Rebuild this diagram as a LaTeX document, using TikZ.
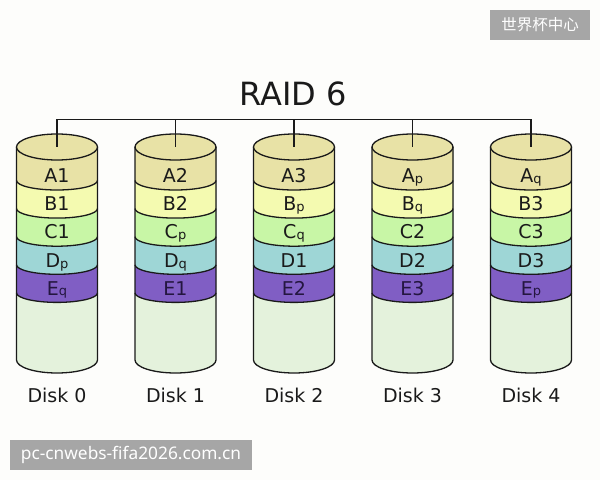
\documentclass[tikz,border=0pt]{standalone}
\usepackage{fontspec}
\setmainfont{DejaVu Sans}
\newfontfamily\cjkfont{Noto Sans CJK SC}
\newfontfamily\urlfont{Noto Sans}
\usetikzlibrary{shapes.geometric}
\definecolor{bgc}{RGB}{253,253,251}
\definecolor{cA}{RGB}{232,226,166}
\definecolor{cB}{RGB}{244,250,176}
\definecolor{cC}{RGB}{200,246,166}
\definecolor{cD}{RGB}{158,214,214}
\definecolor{cE}{RGB}{128,94,196}
\definecolor{cEmpty}{RGB}{228,242,220}
\definecolor{ink}{RGB}{26,26,26}
\definecolor{inkE}{RGB}{36,22,64}
\definecolor{wm}{RGB}{166,166,166}
\newcommand{\lowsub}[1]{\raisebox{-0.8pt}{\fontsize{13}{13}\selectfont #1}}
\begin{document}
\begin{tikzpicture}[x=1pt,y=1pt,
  outline/.style={draw=ink,line width=1.3pt},
  disktop/.style={ellipse,draw=ink,line width=1.3pt,fill=cA,minimum width=81pt,minimum height=26pt,inner sep=0pt,outer sep=0pt},
  bandlabel/.style={anchor=base,text=ink,font=\fontsize{19}{19}\selectfont,inner sep=0pt},
  disklabel/.style={anchor=base,text=ink,font=\fontsize{19}{19}\selectfont,inner sep=0pt},
  wmbox/.style={fill=wm,text=white,inner sep=0pt,minimum height=30pt}]
\useasboundingbox (0,0) rectangle (600,480);
\fill[bgc] (0,0) rectangle (600,480);
\def\rx{40.5}
\node[anchor=base,text=ink,font=\fontsize{32}{32}\selectfont,inner sep=0pt] (title) at (293,374) {RAID 6};
\foreach \i/\la/\lb/\lc/\ld/\le in {0/A1/B1/C1/D\lowsub{p}/E\lowsub{q},1/A2/B2/C\lowsub{p}/D\lowsub{q}/E1,2/A3/B\lowsub{p}/C\lowsub{q}/D1/E2,3/A\lowsub{p}/B\lowsub{q}/C2/D2/E3,4/A\lowsub{q}/B3/C3/D3/E\lowsub{p}}{
  \pgfmathsetmacro\cx{57+118.5*\i}
  \fill[cEmpty] (\cx-\rx,333) -- (\cx-\rx,120) arc[start angle=180,end angle=360,x radius=40.5pt,y radius=13pt] -- (\cx+\rx,333) -- cycle;
  \foreach \yb/\col in {187.1/cE,215.2/cD,243.3/cC,271.4/cB,299.5/cA}{
    \fill[\col] (\cx-\rx,333) -- (\cx-\rx,\yb) arc[start angle=180,end angle=360,x radius=40.5pt,y radius=9.5pt] -- (\cx+\rx,333) -- cycle;
    \draw[outline] (\cx-\rx,\yb) arc[start angle=180,end angle=360,x radius=40.5pt,y radius=9.5pt];
  }
  \draw[outline] (\cx-\rx,333) -- (\cx-\rx,120) arc[start angle=180,end angle=360,x radius=40.5pt,y radius=13pt] -- (\cx+\rx,333);
  \node[disktop] (t\i) at (\cx,333) {};
  \coordinate (b\i) at (\cx,360.7);
  \draw[outline] (b\i) -- (t\i.center);
  \node[bandlabel] (la\i) at (\cx,297.3) {\la};
  \node[bandlabel] (lb\i) at (\cx,269.3) {\lb};
  \node[bandlabel] (lc\i) at (\cx,241.7) {\lc};
  \node[bandlabel] (ld\i) at (\cx,212.7) {\ld};
  \node[bandlabel,text=inkE] (le\i) at (\cx,185) {\le};
  \node[disklabel] (d\i) at (\cx,77.3) {Disk \i};
}
\draw[outline] (b0) -- (b4);
\node[wmbox,minimum width=100pt,font=\cjkfont\fontsize{15.5}{15.5}\selectfont] (wm1) at (540,455.3) {世界杯中心};
\node[wmbox,minimum width=242pt,font=\urlfont\fontsize{17.3}{17.3}\selectfont] (wm2) at (131,25.3) {pc-cnwebs-fifa2026.com.cn};
\end{tikzpicture}
\end{document}
